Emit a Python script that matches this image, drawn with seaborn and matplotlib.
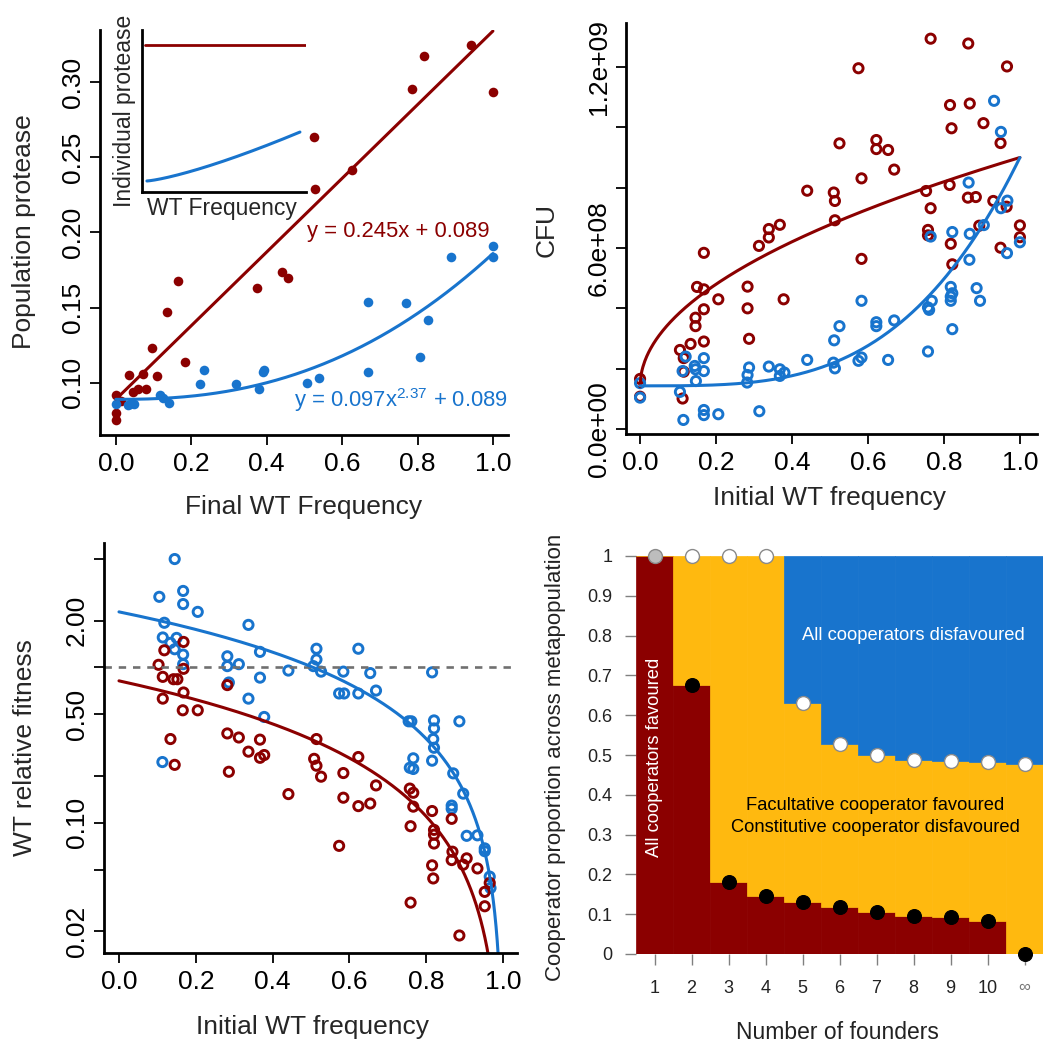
import numpy as np
import matplotlib
matplotlib.use("Agg")
import matplotlib.pyplot as plt
import seaborn as sns

RED = "#8B0000"
BLUE = "#1874CD"
GOLD = "#FFB90F"

# ---------------- Panel A: population protease vs final WT frequency ----------------
prot_const_x = [0, 0, 0, 0.015, 0.034, 0.045, 0.059, 0.072, 0.081, 0.096, 0.11, 0.136,
                0.164, 0.184, 0.374, 0.44, 0.457, 0.525, 0.527, 0.626, 0.786, 0.818, 0.941, 1.0]
prot_const_y = [0.0916, 0.080, 0.075, 0.088, 0.105, 0.094, 0.0956, 0.106, 0.0956, 0.123, 0.1046, 0.147,
                0.1675, 0.114, 0.163, 0.174, 0.1697, 0.2635, 0.229, 0.2418, 0.2954, 0.3175, 0.325, 0.2934]
prot_fac_x = [0, 0.032, 0.038, 0.048, 0.117, 0.126, 0.141, 0.224, 0.233, 0.319, 0.38, 0.391,
              0.393, 0.506, 0.54, 0.668, 0.668, 0.769, 0.806, 0.829, 0.888, 1.0, 1.0]
prot_fac_y = [0.086, 0.085, 0.086, 0.086, 0.0918, 0.0896, 0.0867, 0.0989, 0.1084, 0.0989, 0.096, 0.1073,
              0.1088, 0.100, 0.103, 0.154, 0.1073, 0.153, 0.1175, 0.142, 0.1836, 0.191, 0.184]
# fitted models shown in the panel
lin_slope, lin_icpt = 0.245, 0.089
pow_coef, pow_exp, pow_icpt = 0.097, 2.37, 0.089
# inset: schematic individual protease
inset_const_level = 0.907
inset_fac_base, inset_fac_gain, inset_fac_exp = 0.068, 0.302, 1.3

# ---------------- Panel B: CFU vs initial WT frequency ----------------
cfu_const_x = [0, 0, 0.105, 0.115, 0.115, 0.112, 0.133, 0.146, 0.146, 0.15, 0.168, 0.168, 0.168, 0.168,
               0.206, 0.283, 0.283, 0.287, 0.313, 0.339, 0.339, 0.368, 0.378, 0.44, 0.51, 0.513, 0.513,
               0.525, 0.575, 0.583, 0.583, 0.622, 0.622, 0.653, 0.669, 0.753, 0.765, 0.758, 0.758, 0.765,
               0.816, 0.82, 0.815, 0.818, 0.822, 0.864, 0.868, 0.863, 0.884, 0.904, 0.893, 0.93, 0.949,
               0.966, 0.965, 0.949, 1.0, 1.0]
cfu_const_y = [1.66, 1.07, 2.62, 2.35, 1.90, 1.01, 2.82, 3.69, 3.41, 4.71, 4.63, 3.97, 2.90, 5.84,
               4.30, 4.72, 4.00, 2.99, 6.07, 6.35, 6.63, 6.77, 4.30, 7.90, 7.84, 7.56, 6.92,
               9.47, 11.96, 8.31, 5.64, 9.58, 9.28, 9.25, 8.60, 7.89, 12.94, 6.60, 6.42, 7.32,
               10.74, 9.97, 8.09, 6.14, 5.46, 12.78, 10.79, 7.67, 7.69, 10.14, 6.74, 7.56, 9.48,
               12.02, 7.37, 6.01, 6.75, 6.36]
cfu_fac_x = [0, 0, 0.105, 0.12, 0.112, 0.114, 0.144, 0.146, 0.147, 0.168, 0.168, 0.168, 0.168, 0.206,
             0.282, 0.283, 0.287, 0.314, 0.339, 0.368, 0.368, 0.38, 0.44, 0.509, 0.513, 0.511, 0.525,
             0.575, 0.583, 0.583, 0.622, 0.622, 0.653, 0.669, 0.758, 0.758, 0.761, 0.768, 0.765,
             0.818, 0.818, 0.818, 0.822, 0.822, 0.822, 0.867, 0.868, 0.865, 0.886, 0.895, 0.905,
             0.932, 0.95, 0.95, 0.967, 0.966, 1.0]
cfu_fac_y = [1.52, 1.04, 1.23, 2.40, 1.92, 0.30, 2.09, 1.98, 1.59, 2.35, 1.92, 0.63, 0.46, 0.49,
             1.54, 1.79, 2.04, 0.59, 2.07, 1.98, 1.76, 1.87, 2.29, 2.20, 2.01, 2.94, 3.41,
             2.26, 2.37, 4.25, 3.54, 3.41, 2.29, 3.60, 2.57, 4.03, 3.95, 4.25, 6.38,
             4.71, 4.39, 4.25, 4.50, 3.31, 6.53, 5.61, 6.47, 8.17, 4.67, 4.25, 6.76,
             10.88, 9.85, 7.32, 7.57, 5.83, 6.19]
cfu_unit = 1e8
cfu_const_fit = (1.40, 7.60, 0.5)    # a + b * x**c
cfu_fac_fit = (1.43, 7.57, 3.4)

# ---------------- Panel C: WT relative fitness vs initial WT frequency ----------------
fit_fac_x = [0.145, 0.105, 0.167, 0.167, 0.205, 0.118, 0.114, 0.134, 0.15, 0.145, 0.167, 0.167,
             0.337, 0.282, 0.282, 0.312, 0.286, 0.367, 0.367, 0.337, 0.378, 0.113, 0.441,
             0.514, 0.514, 0.506, 0.526, 0.584, 0.573, 0.586, 0.623, 0.654, 0.623, 0.669,
             0.754, 0.761, 0.766, 0.757, 0.766, 0.815, 0.82, 0.82, 0.818, 0.82, 0.815,
             0.886, 0.87, 0.896, 0.866, 0.866, 0.905, 0.933, 0.952, 0.952, 0.965, 0.967]
fit_fac_y = [4.99, 2.85, 3.11, 2.56, 2.28, 1.94, 1.56, 1.44, 1.55, 1.31, 1.21, 1.05,
             1.88, 1.18, 1.02, 1.05, 0.80, 1.26, 0.86, 0.63, 0.48, 0.246, 0.955,
             1.32, 1.125, 1.02, 0.94, 0.94, 0.68, 0.68, 1.32, 0.92, 0.68, 0.71,
             0.45, 0.45, 0.26, 0.226, 0.222, 0.93, 0.456, 0.405, 0.346, 0.304, 0.251,
             0.45, 0.208, 0.154, 0.129, 0.123, 0.0824, 0.083, 0.0684, 0.0656, 0.045, 0.038]
fit_const_x = [0.168, 0.118, 0.103, 0.168, 0.114, 0.142, 0.152, 0.282, 0.168, 0.114, 0.166, 0.205,
               0.134, 0.145, 0.282, 0.312, 0.337, 0.367, 0.367, 0.378, 0.286, 0.441, 0.514,
               0.508, 0.514, 0.526, 0.584, 0.584, 0.573, 0.623, 0.623, 0.654, 0.669, 0.757,
               0.766, 0.766, 0.759, 0.759, 0.815, 0.82, 0.82, 0.82, 0.815, 0.818, 0.866,
               0.868, 0.866, 0.896, 0.905, 0.933, 0.952, 0.952, 0.886, 0.965]
fit_const_y = [1.46, 1.29, 1.04, 0.98, 0.87, 0.84, 0.84, 0.77, 0.69, 0.63, 0.53, 0.53,
               0.346, 0.236, 0.376, 0.354, 0.287, 0.343, 0.262, 0.273, 0.213, 0.153, 0.346,
               0.258, 0.233, 0.198, 0.209, 0.145, 0.071, 0.265, 0.128, 0.133, 0.174, 0.166,
               0.156, 0.127, 0.095, 0.0306, 0.119, 0.090, 0.0838, 0.0735, 0.0532, 0.0438, 0.106,
               0.0651, 0.0575, 0.0537, 0.059, 0.0508, 0.0359, 0.029, 0.0188, 0.041]
rel_fac_fit = (2.28, 1.17)      # a * (1 - x)**b
rel_const_fit = (0.82, 1.25)

# ---------------- Panel D: metapopulation model ----------------
founders = ["1", "2", "3", "4", "5", "6", "7", "8", "9", "10", "\u221e"]
lower_threshold = [1.0, 0.677, 0.182, 0.145, 0.130, 0.117, 0.105, 0.096, 0.092, 0.084, 0.0]
upper_threshold = [1.0, 1.0, 1.0, 1.0, 0.630, 0.527, 0.499, 0.487, 0.485, 0.482, 0.478]

# ---------------- style ----------------
sns.set_style("ticks")
plt.rcParams["font.family"] = ["Liberation Sans", "DejaVu Sans"]
plt.rcParams["mathtext.fontset"] = "custom"
plt.rcParams["mathtext.rm"] = "Liberation Sans"
plt.rcParams["mathtext.it"] = "Liberation Sans"
plt.rcParams["mathtext.default"] = "regular"

W, H = 1043, 1051
fig = plt.figure(figsize=(W / 100, H / 100), dpi=100)

DOT = 48          # filled points
RING = 44         # open circles
RING_LW = 2.1


def px_axes(l, t, r, b):
    return fig.add_axes([l / W, 1 - b / H, (r - l) / W, (b - t) / H])


def r_style(ax, lab=19):
    for s in ["top", "right"]:
        ax.spines[s].set_visible(False)
    for s in ["left", "bottom"]:
        ax.spines[s].set_linewidth(2.0)
        ax.spines[s].set_color("black")
    ax.tick_params(direction="out", length=7, width=1.3, labelsize=lab, colors="black")
    ax.tick_params(axis="x", pad=5)
    ax.tick_params(axis="y", pad=4)
    ax.minorticks_off()


def rotate_y(ax):
    for lbl in ax.get_yticklabels():
        lbl.set_rotation(90)
        lbl.set_va("center")


def place_labels(ax, xl, yl, xpos, ypos, size=19):
    ax.set_xlabel(xl, fontsize=size)
    ax.set_ylabel(yl, fontsize=size)
    ax.xaxis.set_label_coords(*xpos)
    ax.yaxis.set_label_coords(*ypos)
    ax.xaxis.label.set_va("center")
    ax.yaxis.label.set_va("center")
    ax.yaxis.label.set_ha("center")


def rings(ax, x, y, color):
    sns.scatterplot(x=x, y=y, s=RING, marker="o", facecolor="none",
                    edgecolor=color, linewidth=RING_LW, ax=ax)


xs = np.linspace(0, 1, 400)

# ---- Panel A ----
axA = px_axes(100, 30, 508, 435)
sns.scatterplot(x=prot_const_x, y=prot_const_y, color=RED, s=DOT, edgecolor=RED, linewidth=0, ax=axA)
sns.scatterplot(x=prot_fac_x, y=prot_fac_y, color=BLUE, s=DOT, edgecolor=BLUE, linewidth=0, ax=axA)
sns.lineplot(x=xs, y=lin_slope * xs + lin_icpt, color=RED, lw=2.2, ax=axA)
sns.lineplot(x=xs, y=pow_coef * xs ** pow_exp + pow_icpt, color=BLUE, lw=2.2, ax=axA)
axA.set_xlim(-0.042, 1.04)
axA.set_ylim(0.0653, 0.3347)
axA.set_xticks(np.arange(0, 1.01, 0.2))
axA.set_xticklabels([f"{v:.1f}" for v in np.arange(0, 1.01, 0.2)])
axA.set_yticks([0.10, 0.15, 0.20, 0.25, 0.30])
axA.set_yticklabels(["0.10", "0.15", "0.20", "0.25", "0.30"])
r_style(axA)
rotate_y(axA)
place_labels(axA, "Final WT Frequency", "Population protease", (0.5, -0.178), (-0.186, 0.501))
axA.text(0.75, 0.2005, "y = 0.245x + 0.089", color=RED, fontsize=15.8, ha="center", va="center")
axA.text(0.755, 0.0887, "y = 0.097x$^{2.37}$ + 0.089", color=BLUE, fontsize=15.8, ha="center", va="center")

# inset
axI = px_axes(142, 30, 306, 192)
xi = np.linspace(0.03, 0.963, 200)
sns.lineplot(x=[0.02, 1.0], y=[inset_const_level, inset_const_level], color=RED, lw=2.0, ax=axI)
sns.lineplot(x=xi, y=inset_fac_base + inset_fac_gain * ((xi - 0.03) / 0.933) ** inset_fac_exp,
             color=BLUE, lw=2.2, ax=axI)
axI.set_xlim(0, 1)
axI.set_ylim(0, 1)
axI.set_xticks([])
axI.set_yticks([])
for s in ["top", "right"]:
    axI.spines[s].set_visible(False)
for s in ["left", "bottom"]:
    axI.spines[s].set_linewidth(2.0)
    axI.spines[s].set_color("black")
axI.patch.set_alpha(0)
axI.set_xlabel("WT Frequency", fontsize=16.5)
axI.set_ylabel("Individual protease", fontsize=16.5)
axI.xaxis.set_label_coords((222 - 142) / 164, (192 - 208) / 162)
axI.yaxis.set_label_coords((124 - 142) / 164, (192 - 111) / 162)
axI.xaxis.label.set_va("center")
axI.yaxis.label.set_va("center")

# ---- Panel B ----
axB = px_axes(626, 23, 1037, 434)
rings(axB, cfu_const_x, np.array(cfu_const_y) * cfu_unit, RED)
rings(axB, cfu_fac_x, np.array(cfu_fac_y) * cfu_unit, BLUE)
a, b, c = cfu_const_fit
sns.lineplot(x=xs, y=(a + b * xs ** c) * cfu_unit, color=RED, lw=2.2, ax=axB)
a, b, c = cfu_fac_fit
sns.lineplot(x=xs, y=(a + b * xs ** c) * cfu_unit, color=BLUE, lw=2.2, ax=axB)
axB.set_xlim(-0.037, 1.045)
axB.set_ylim(-0.166e8, 13.46e8)
axB.set_xticks(np.arange(0, 1.01, 0.2))
axB.set_xticklabels([f"{v:.1f}" for v in np.arange(0, 1.01, 0.2)])
yt = np.arange(0, 12.01, 2) * 1e8
axB.set_yticks(yt)
axB.set_yticklabels(["0.0e+00", "", "", "6.0e+08", "", "", "1.2e+09"])
r_style(axB)
rotate_y(axB)
place_labels(axB, "Initial WT frequency", "CFU", (0.496, -0.156), (-0.192, 0.496))

# ---- Panel C ----
axC = px_axes(104, 543, 517, 953)
axC.set_yscale("log")
axC.axhline(1.0, color="#707070", lw=1.9, ls=(0, (2.8, 2.6)), xmin=0, xmax=1)
rings(axC, fit_fac_x, fit_fac_y, BLUE)
rings(axC, fit_const_x, fit_const_y, RED)
xc = np.linspace(0, 0.9995, 2000)
a, b = rel_fac_fit
sns.lineplot(x=xc, y=a * (1 - xc) ** b, color=BLUE, lw=2.2, ax=axC)
a, b = rel_const_fit
sns.lineplot(x=xc, y=a * (1 - xc) ** b, color=RED, lw=2.2, ax=axC)
axC.set_xlim(-0.039, 1.036)
axC.set_ylim(0.0145, 6.33)
axC.set_xticks(np.arange(0, 1.01, 0.2))
axC.set_xticklabels([f"{v:.1f}" for v in np.arange(0, 1.01, 0.2)])
axC.set_yticks([5, 2, 1, 0.5, 0.2, 0.1, 0.05, 0.02])
axC.set_yticklabels(["", "2.00", "", "0.50", "", "0.10", "", "0.02"])
r_style(axC)
axC.yaxis.set_minor_locator(matplotlib.ticker.NullLocator())
rotate_y(axC)
place_labels(axC, "Initial WT frequency", "WT relative fitness", (0.504, -0.18), (-0.191, 0.5))

# ---- Panel D ----
axD = px_axes(636, 556, 1043, 954)
pos = np.arange(1, len(founders) + 1)
low = np.array(lower_threshold)
up = np.array(upper_threshold)
axD.bar(pos[:-1], low[:-1], width=1.0, color=RED, edgecolor=RED, linewidth=0.5)
axD.bar(pos, up - low, bottom=low, width=1.0, color=GOLD, edgecolor=GOLD, linewidth=0.5)
axD.bar(pos[4:], 1 - up[4:], bottom=up[4:], width=1.0, color=BLUE, edgecolor=BLUE, linewidth=0.5)
sns.scatterplot(x=pos[1:], y=low[1:], color="black", s=100, edgecolor="black", linewidth=0.8,
                clip_on=False, zorder=5, ax=axD)
sns.scatterplot(x=pos[1:], y=up[1:], color="white", s=100, edgecolor="#8a8a8a", linewidth=1.0,
                clip_on=False, zorder=5, ax=axD)
sns.scatterplot(x=pos[:1], y=up[:1], color="#bdbdbd", s=100, edgecolor="#8a8a8a", linewidth=1.0,
                clip_on=False, zorder=5, ax=axD)
axD.set_xlim(0.5, 11.5)
axD.set_ylim(0, 1)
for s in axD.spines.values():
    s.set_visible(False)
axD.set_yticks(np.arange(0, 1.01, 0.1))
axD.set_yticklabels(["0"] + [f"{v:.1f}" for v in np.arange(0.1, 0.95, 0.1)] + ["1"])
axD.set_xticks(pos)
axD.set_xticklabels(founders)
axD.tick_params(direction="out", length=8, width=1.0, color="#808080", labelsize=13, labelcolor="#222222")
axD.tick_params(axis="y", pad=9)
axD.tick_params(axis="x", pad=11)
inf_lbl = axD.get_xticklabels()[-1]
inf_lbl.set_color("#777777")
inf_lbl.set_fontsize(12)
axD.set_xlabel("Number of founders", fontsize=16.5, color="#222222")
axD.set_ylabel("Cooperator proportion across metapopulation", fontsize=16, color="#222222")
axD.xaxis.set_label_coords(0.496, -0.196)
axD.yaxis.set_label_coords(-0.199, 0.495)
axD.xaxis.label.set_va("center")
axD.yaxis.label.set_va("center")
axD.text(7.99, 0.80, "All cooperators disfavoured", color="white", fontsize=13.2, ha="center", va="center")
axD.text(6.96, 0.374, "Facultative cooperator favoured", color="black", fontsize=13.2, ha="center", va="center")
axD.text(6.98, 0.319, "Constitutive cooperator disfavoured", color="black", fontsize=13.2, ha="center", va="center")
axD.text(1.0, 0.495, "All cooperators favoured", color="white", fontsize=13.2, rotation=90,
         ha="center", va="center")

fig.savefig("out.png", dpi=100)
